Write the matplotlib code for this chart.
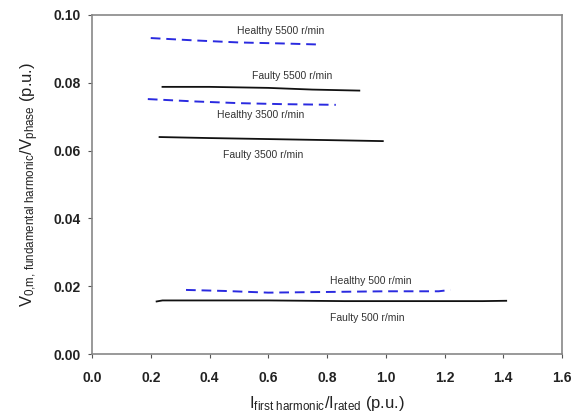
import matplotlib
matplotlib.use("Agg")
import matplotlib.pyplot as plt

plt.rcParams['font.family'] = ['Liberation Sans', 'DejaVu Sans']
plt.rcParams['mathtext.fontset'] = 'custom'
plt.rcParams['mathtext.rm'] = 'Liberation Sans'
plt.rcParams['mathtext.it'] = 'Liberation Sans'

# Measured curves: current ratio (p.u.) vs zero-sequence voltage ratio (p.u.)
healthy_5500_x = [0.20, 0.35, 0.50, 0.65, 0.77]
healthy_5500_y = [0.0932, 0.0925, 0.0919, 0.0916, 0.0913]
faulty_5500_x = [0.24, 0.40, 0.60, 0.75, 0.91]
faulty_5500_y = [0.0788, 0.0788, 0.0785, 0.0780, 0.0777]
healthy_3500_x = [0.19, 0.35, 0.50, 0.65, 0.83]
healthy_3500_y = [0.0752, 0.0745, 0.0740, 0.0737, 0.0735]
faulty_3500_x = [0.23, 0.40, 0.60, 0.80, 0.99]
faulty_3500_y = [0.0640, 0.0637, 0.0634, 0.0631, 0.0628]
healthy_500_x = [0.32, 0.45, 0.60, 0.80, 1.00, 1.18, 1.22]
healthy_500_y = [0.0189, 0.0186, 0.0181, 0.0183, 0.0185, 0.0185, 0.0189]
faulty_500_x = [0.22, 0.24, 0.60, 0.86, 1.33, 1.41]
faulty_500_y = [0.0155, 0.0158, 0.0158, 0.0156, 0.0156, 0.0157]

labels = ["Healthy 5500 r/min", "Faulty 5500 r/min", "Healthy 3500 r/min",
          "Faulty 3500 r/min", "Healthy 500 r/min", "Faulty 500 r/min"]
label_x = [0.495, 0.545, 0.425, 0.445, 0.81, 0.81]
label_y = [0.0953, 0.0820, 0.0705, 0.0587, 0.0215, 0.0106]

x_ticks = [0.0, 0.2, 0.4, 0.6, 0.8, 1.0, 1.2, 1.4, 1.6]
y_ticks = [0.00, 0.02, 0.04, 0.06, 0.08, 0.10]

fig = plt.figure(figsize=(5.71, 4.19), dpi=100)
ax = fig.add_axes([92/571, 1 - 354/419, (562-92)/571, (354-15)/419])

blue = '#2a2ae0'
dash = (0, (5, 3))
ax.plot(healthy_5500_x, healthy_5500_y, color=blue, lw=1.4, ls=dash)
ax.plot(faulty_5500_x, faulty_5500_y, color='#111111', lw=1.3)
ax.plot(healthy_3500_x, healthy_3500_y, color=blue, lw=1.4, ls=dash)
ax.plot(faulty_3500_x, faulty_3500_y, color='#111111', lw=1.3)
ax.plot(healthy_500_x, healthy_500_y, color=blue, lw=1.4, ls=dash)
ax.plot(faulty_500_x, faulty_500_y, color='#111111', lw=1.3)

for t, x, y in zip(labels, label_x, label_y):
    ax.text(x, y, t, fontsize=7.5, color='#333333', ha='left', va='center')

ax.set_xlim(0.0, 1.6)
ax.set_ylim(0.0, 0.10)
ax.set_xticks(x_ticks)
ax.set_yticks(y_ticks)
ax.set_xticklabels([f"{v:.1f}" for v in x_ticks])
ax.set_yticklabels([f"{v:.2f}" for v in y_ticks])
ax.tick_params(labelsize=10, colors='#555555', length=3, width=0.8)
ax.tick_params(axis='y', pad=5)
ax.tick_params(axis='x', pad=9)
for lab in ax.get_xticklabels() + ax.get_yticklabels():
    lab.set_fontweight('bold')
    lab.set_color('#222222')

for s in ax.spines.values():
    s.set_color('#888888')
    s.set_linewidth(1.2)

ax.set_xlabel(r'I$_{\mathregular{first\ harmonic}}$/I$_{\mathregular{rated}}$ (p.u.)',
              fontsize=12, color='#222222', labelpad=7)
ax.set_ylabel(r'V$_{\mathregular{0{,}m{,}\ fundamental\ harmonic}}$/V$_{\mathregular{phase}}$ (p.u.)',
              fontsize=12, color='#222222', labelpad=9)

fig.savefig("out.png", dpi=100)
